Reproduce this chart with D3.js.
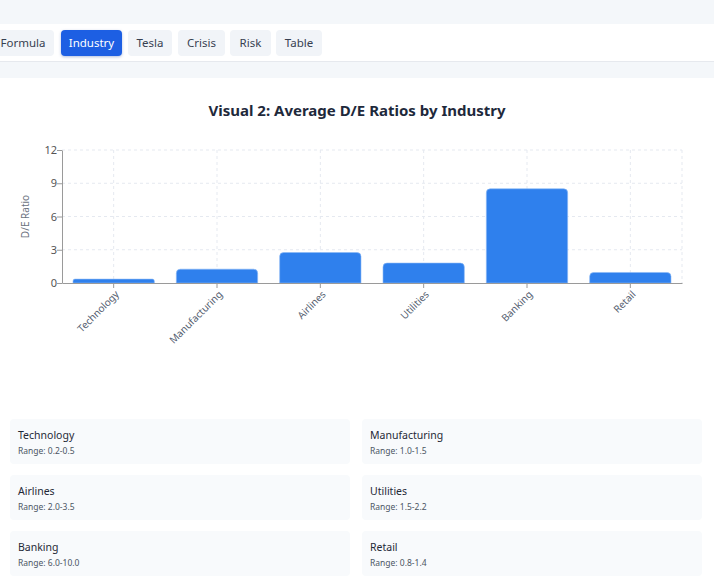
<!DOCTYPE html>
<html>
<head>
<meta charset="utf-8">
<script src="https://cdn.jsdelivr.net/npm/d3@7"></script>
<style>
  html, body { margin: 0; padding: 0; }
  body {
    width: 714px; height: 586px; overflow: hidden; position: relative;
    background: #f4f7fa; font-family: "Noto Sans", "Open Sans", sans-serif;
  }
  .nav {
    position: absolute; left: 0; top: 24px; width: 714px; height: 38px;
    background: #fff; border-bottom: 1px solid #e6e9ee; box-sizing: border-box;
  }
  .tab {
    position: absolute; top: 6px; height: 26px; line-height: 26px;
    border-radius: 4px; background: #f1f4f8; color: #374151;
    font-size: 11.5px; text-align: center;
  }
  .tab.active { background: #1d5fe3; color: #fff; box-shadow: 0 1px 3px rgba(30,70,160,0.35); }
  .content {
    position: absolute; left: 0; top: 78px; width: 714px; height: 508px; background: #fff;
  }
  .card {
    position: absolute; width: 340px; height: 45px; border-radius: 4px;
    background: #f8fafc;
  }
  .card .name { position: absolute; left: 8px; top: 9px; font-size: 10.5px; color: #1f2937; }
  .card .range { position: absolute; left: 8px; top: 26px; font-size: 8.5px; color: #4b5563; }
</style>
</head>
<body>
<div class="nav" id="nav"></div>
<div class="content" id="content"></div>
<script>
var industries = ["Technology", "Manufacturing", "Airlines", "Utilities", "Banking", "Retail"];
var avgRatios = [0.35, 1.25, 2.75, 1.8, 8.5, 0.95];
var ranges = ["0.2-0.5", "1.0-1.5", "2.0-3.5", "1.5-2.2", "6.0-10.0", "0.8-1.4"];
var yTicks = [0, 3, 6, 9, 12];
var tabs = ["Formula", "Industry", "Tesla", "Crisis", "Risk", "Table"];
var tabEdges = [[-8, 54], [61, 122], [128, 172], [178, 225], [230, 271], [276, 322]];

// tabs
d3.select("#nav").selectAll("div.tab")
    .data(tabs)
  .enter().append("div")
    .attr("class", function (d) { return d == "Industry" ? "tab active" : "tab"; })
    .style("left", function (d, i) { return tabEdges[i][0] + "px"; })
    .style("width", function (d, i) { return (tabEdges[i][1] - tabEdges[i][0]) + "px"; })
    .text(function (d) { return d; });

var content = d3.select("#content");

var svg = content.append("svg")
    .attr("width", 714)
    .attr("height", 330)
    .style("position", "absolute")
    .style("left", 0).style("top", 0);

svg.append("text")
    .attr("x", 357).attr("y", 38)
    .attr("text-anchor", "middle")
    .attr("font-size", 15)
    .attr("font-weight", "bold")
    .attr("fill", "#1e293b")
    .text("Visual 2: Average D/E Ratios by Industry");

var plotL = 62, plotR = 682, plotT = 72, plotB = 205;

// bar band: ~11px gap either side of each bar inside its category slot
var x = d3.scaleBand()
    .domain(industries)
    .range([plotL, plotR])
    .paddingInner(0.213)
    .paddingOuter(0.1065);

var xc = d3.scaleBand().domain(industries).range([plotL, plotR]);

var y = d3.scaleLinear()
    .domain([0, 12])
    .range([plotB, plotT]);

// grid
var grid = svg.append("g").attr("stroke", "#e5e9f0").attr("stroke-dasharray", "3 3");
grid.selectAll("line.h")
    .data(yTicks.slice(1))
  .enter().append("line")
    .attr("x1", plotL).attr("x2", plotR)
    .attr("y1", function (d) { return y(d); })
    .attr("y2", function (d) { return y(d); });
grid.selectAll("line.v")
    .data(industries)
  .enter().append("line")
    .attr("x1", function (d) { return xc(d) + xc.bandwidth() / 2; })
    .attr("x2", function (d) { return xc(d) + xc.bandwidth() / 2; })
    .attr("y1", plotT).attr("y2", plotB);
grid.append("line")
    .attr("x1", plotR).attr("x2", plotR)
    .attr("y1", plotT).attr("y2", plotB);

// bars with rounded tops
var r = 4;
svg.append("g").selectAll("path")
    .data(industries)
  .enter().append("path")
    .attr("fill", "#2f80ed")
    .attr("stroke", "#8cb8f5")
    .attr("stroke-width", 0.6)
    .attr("d", function (d, i) {
      var x0 = x(d), w = x.bandwidth(), y0 = y(avgRatios[i]), h = plotB - y0;
      var rr = Math.min(r, h / 2);
      return "M" + x0 + "," + plotB +
        "V" + (y0 + rr) +
        "Q" + x0 + "," + y0 + " " + (x0 + rr) + "," + y0 +
        "H" + (x0 + w - rr) +
        "Q" + (x0 + w) + "," + y0 + " " + (x0 + w) + "," + (y0 + rr) +
        "V" + plotB + "Z";
    });

// axes
var xAxis = svg.append("g")
    .attr("transform", "translate(0," + plotB + ")")
    .call(d3.axisBottom(xc).tickSize(5).tickSizeOuter(0));
xAxis.select(".domain").attr("stroke", "#9a9a9a");
xAxis.selectAll(".tick line").attr("stroke", "#9a9a9a");
xAxis.selectAll(".tick text")
    .attr("font-family", "Noto Sans, sans-serif")
    .attr("font-size", 10)
    .attr("fill", "#556070")
    .attr("text-anchor", "end")
    .attr("y", 0)
    .attr("dy", 0)
    .attr("transform", "translate(6,12) rotate(-45)");

var yAxis = svg.append("g")
    .attr("transform", "translate(" + plotL + ",0)")
    .call(d3.axisLeft(y).tickValues(yTicks).tickSize(5).tickSizeOuter(0));
yAxis.select(".domain").attr("stroke", "#9a9a9a");
yAxis.selectAll(".tick line").attr("stroke", "#9a9a9a");
yAxis.selectAll(".tick text")
    .attr("font-family", "Noto Sans, sans-serif")
    .attr("font-size", 11)
    .attr("fill", "#555")
    .attr("x", -5);

svg.append("text")
    .attr("transform", "translate(29," + ((plotT + plotB) / 2) + ") rotate(-90)")
    .attr("text-anchor", "middle")
    .attr("font-size", 10)
    .attr("fill", "#6b7280")
    .text("D/E Ratio");

// info cards
var cards = content.selectAll("div.card")
    .data(industries)
  .enter().append("div")
    .attr("class", "card")
    .style("left", function (d, i) { return (i % 2 ? 362 : 10) + "px"; })
    .style("top", function (d, i) { return (341 + Math.floor(i / 2) * 56) + "px"; });
cards.append("div").attr("class", "name").text(function (d) { return d; });
cards.append("div").attr("class", "range").text(function (d, i) { return "Range: " + ranges[i]; });
</script>
</body>
</html>
